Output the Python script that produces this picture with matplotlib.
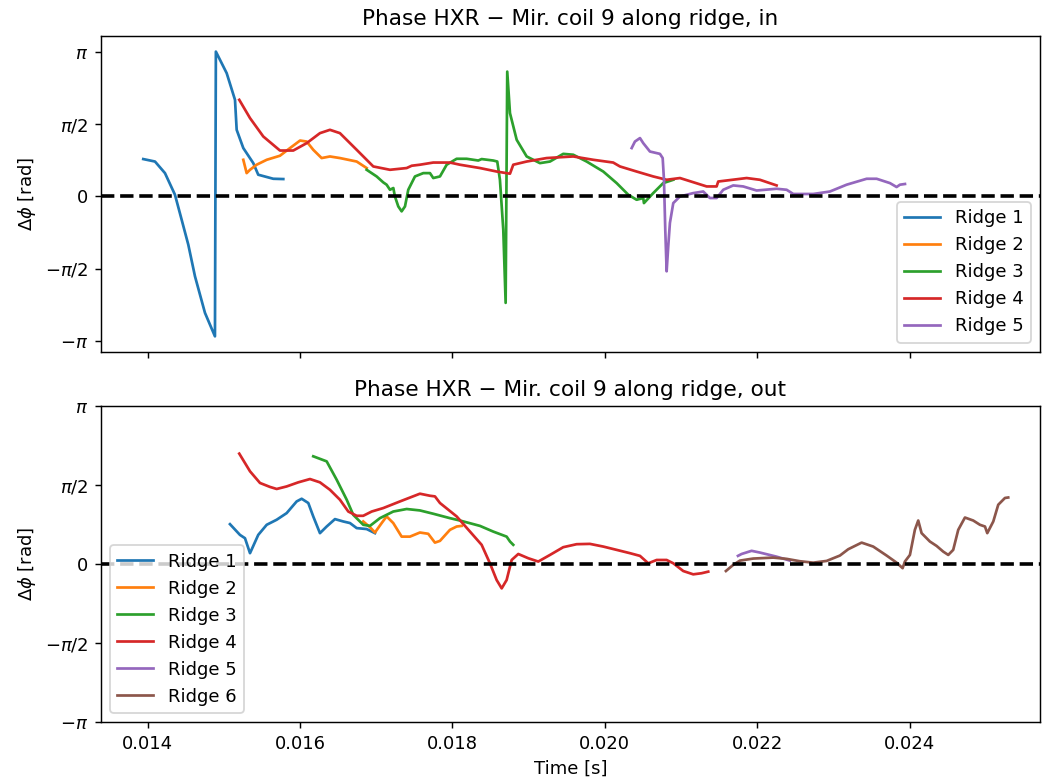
import numpy as np
import matplotlib
matplotlib.use("Agg")
import matplotlib.pyplot as plt

# phase values are stored in units of pi, time in seconds

# ---- top panel: "in" ----
in_t1 = [0.013942, 0.014096, 0.014227, 0.014358, 0.014446, 0.014533, 0.014621, 0.014752,
         0.014883, 0.014895, 0.015037, 0.015146, 0.015168, 0.015255, 0.015386, 0.015451,
         0.015648, 0.015780]
in_p1 = [0.258, 0.241, 0.161, 0.012, -0.161, -0.333, -0.552, -0.804,
         -0.966, 1.0, 0.851, 0.667, 0.46, 0.334, 0.230, 0.150,
         0.122, 0.120]

in_t2 = [0.015255, 0.015299, 0.015343, 0.015430, 0.015562, 0.015736, 0.015868, 0.016,
         0.016087, 0.016173, 0.016283, 0.016392, 0.016523, 0.016743, 0.016874]
in_p2 = [0.253, 0.161, 0.184, 0.219, 0.253, 0.281, 0.334, 0.386,
         0.379, 0.322, 0.265, 0.276, 0.265, 0.241, 0.196]

in_t3 = [0.016874, 0.017005, 0.017092, 0.017136, 0.017180, 0.017224, 0.017245, 0.017289,
         0.017333, 0.017377, 0.017420, 0.017508, 0.017617, 0.017705, 0.017748, 0.017836,
         0.017924, 0.018055, 0.018186, 0.018339, 0.018383, 0.018535, 0.018588, 0.018623,
         0.018667, 0.018698, 0.018719, 0.018755, 0.018843, 0.018974, 0.019148, 0.019280,
         0.019454, 0.019585, 0.019761, 0.019979, 0.020155, 0.020307, 0.020417, 0.020504,
         0.020513, 0.020635, 0.020766, 0.020898]
in_p3 = [0.184, 0.138, 0.097, 0.081, 0.046, 0.058, 0.0, -0.069,
         -0.103, -0.069, 0.046, 0.138, 0.161, 0.161, 0.127, 0.138,
         0.219, 0.260, 0.260, 0.248, 0.258, 0.248, 0.241, 0.115,
         -0.230, -0.735, 0.862, 0.575, 0.391, 0.276, 0.230, 0.241,
         0.294, 0.288, 0.241, 0.172, 0.092, 0.012, -0.023, -0.011,
         -0.046, 0.023, 0.092, 0.115]

in_t4 = [0.015202, 0.015343, 0.015517, 0.015736, 0.015911, 0.016087, 0.016261, 0.016392,
         0.016523, 0.016743, 0.016961, 0.017180, 0.017399, 0.017465, 0.017573, 0.017748,
         0.017967, 0.018098, 0.018361, 0.018580, 0.018755, 0.018798, 0.018974, 0.019236,
         0.019585, 0.019848, 0.020110, 0.020198, 0.020417, 0.020635, 0.020811, 0.020986,
         0.021336, 0.021467, 0.021488, 0.021861, 0.022035, 0.022254]
in_p4 = [0.667, 0.541, 0.414, 0.317, 0.317, 0.368, 0.437, 0.460,
         0.437, 0.322, 0.207, 0.184, 0.196, 0.212, 0.219, 0.234,
         0.234, 0.219, 0.196, 0.172, 0.157, 0.219, 0.241, 0.265,
         0.276, 0.253, 0.234, 0.207, 0.172, 0.138, 0.115, 0.127,
         0.069, 0.069, 0.103, 0.127, 0.115, 0.076]

in_t5 = [0.020352, 0.020395, 0.020461, 0.020504, 0.020592, 0.020723, 0.020759, 0.020776,
         0.020793, 0.020811, 0.020832, 0.020854, 0.020898, 0.020986, 0.021160, 0.021291,
         0.021379, 0.021467, 0.021554, 0.021685, 0.021816, 0.021992, 0.022254, 0.022386,
         0.022473, 0.022735, 0.022954, 0.023173, 0.023436, 0.023567, 0.023742, 0.023829,
         0.023873, 0.023939]
in_p5 = [0.334, 0.379, 0.403, 0.368, 0.310, 0.294, 0.265, 0.115,
         -0.230, -0.517, -0.345, -0.183, -0.046, 0.0, 0.023, 0.034,
         -0.011, -0.011, 0.046, 0.076, 0.069, 0.041, 0.053, 0.046,
         0.017, 0.017, 0.034, 0.081, 0.122, 0.122, 0.092, 0.065,
         0.081, 0.086]

# ---- bottom panel: "out" ----
out_t1 = [0.015080, 0.015211, 0.015277, 0.015343, 0.015451, 0.015562, 0.015693, 0.015824,
          0.015955, 0.016021, 0.016108, 0.016173, 0.016261, 0.016349, 0.016458, 0.016567,
          0.016655, 0.016743, 0.016874, 0.016983]
out_p1 = [0.254, 0.186, 0.165, 0.070, 0.186, 0.250, 0.282, 0.324,
          0.398, 0.415, 0.388, 0.303, 0.197, 0.239, 0.286, 0.271,
          0.261, 0.229, 0.223, 0.197]

out_t2 = [0.016829, 0.016917, 0.016983, 0.017071, 0.017136, 0.017223, 0.017333, 0.017442,
          0.017573, 0.017682, 0.017770, 0.017836, 0.017967, 0.018055, 0.018121]
out_p2 = [0.271, 0.235, 0.201, 0.261, 0.303, 0.261, 0.175, 0.175,
          0.201, 0.193, 0.137, 0.148, 0.218, 0.239, 0.243]

out_t3 = [0.016173, 0.016349, 0.016480, 0.016612, 0.016698, 0.016829, 0.016917, 0.017048,
          0.017223, 0.017399, 0.017573, 0.017748, 0.017967, 0.018098, 0.018361, 0.018535,
          0.018711, 0.018755, 0.018798]
out_p3 = [0.684, 0.652, 0.536, 0.409, 0.313, 0.250, 0.243, 0.292,
          0.334, 0.350, 0.341, 0.320, 0.292, 0.277, 0.243, 0.207,
          0.175, 0.144, 0.123]

out_t4 = [0.015202, 0.015343, 0.015474, 0.015605, 0.015693, 0.015824, 0.015976, 0.016130,
          0.016261, 0.016392, 0.016523, 0.016633, 0.016743, 0.016829, 0.016940, 0.017092,
          0.017311, 0.017573, 0.017705, 0.017770, 0.017836, 0.018055, 0.018230, 0.018383,
          0.018492, 0.018580, 0.018646, 0.018711, 0.018777, 0.018864, 0.018995, 0.019126,
          0.019280, 0.019454, 0.019630, 0.019804, 0.019979, 0.020155, 0.020330, 0.020461,
          0.020570, 0.020680, 0.020811, 0.020898, 0.021029, 0.021160, 0.021270, 0.021357]
out_p4 = [0.701, 0.589, 0.515, 0.490, 0.477, 0.493, 0.519, 0.540,
          0.519, 0.472, 0.409, 0.334, 0.307, 0.307, 0.334, 0.356,
          0.398, 0.447, 0.434, 0.430, 0.388, 0.303, 0.207, 0.123,
          0.006, -0.100, -0.153, -0.100, 0.027, 0.065, 0.038, 0.017,
          0.059, 0.108, 0.127, 0.129, 0.112, 0.091, 0.070, 0.053,
          0.006, 0.027, 0.027, 0.006, -0.043, -0.064, -0.057, -0.047]

out_t5 = [0.021747, 0.021795, 0.021926, 0.022035, 0.022254, 0.022429]
out_p5 = [0.053, 0.065, 0.085, 0.074, 0.048, 0.023]

out_t6 = [0.021589, 0.021685, 0.021773, 0.021947, 0.022210, 0.022386, 0.022560, 0.022735,
          0.022911, 0.023085, 0.023194, 0.023370, 0.023522, 0.023698, 0.023829, 0.023908,
          0.023938, 0.024004, 0.024069, 0.024113, 0.024157, 0.024266, 0.024354, 0.024441,
          0.024507, 0.024572, 0.024638, 0.024726, 0.024835, 0.024923, 0.024989, 0.025019,
          0.025098, 0.025163, 0.025251, 0.025294]
out_p6 = [-0.043, -0.004, 0.023, 0.036, 0.042, 0.034, 0.019, 0.010,
          0.021, 0.055, 0.095, 0.137, 0.112, 0.055, 0.010, -0.025,
          0.017, 0.059, 0.218, 0.277, 0.197, 0.144, 0.116, 0.080,
          0.059, 0.091, 0.218, 0.296, 0.277, 0.250, 0.239, 0.197,
          0.271, 0.377, 0.420, 0.423]

in_ridges = [(in_t1, in_p1), (in_t2, in_p2), (in_t3, in_p3), (in_t4, in_p4), (in_t5, in_p5)]
out_ridges = [(out_t1, out_p1), (out_t2, out_p2), (out_t3, out_p3), (out_t4, out_p4),
              (out_t5, out_p5), (out_t6, out_p6)]

tick_vals = [-np.pi, -np.pi / 2, 0, np.pi / 2, np.pi]
tick_labels = [r"$-\pi$", r"$-\pi/2$", "0", r"$\pi/2$", r"$\pi$"]

fig, (ax1, ax2) = plt.subplots(2, 1, sharex=True, figsize=(1042 / 130, 782 / 130), dpi=130)
fig.subplots_adjust(left=0.0969, right=0.998, top=0.954, bottom=0.0767, hspace=0.174)

for i, (t, p) in enumerate(in_ridges):
    ax1.plot(t, np.array(p) * np.pi, label="Ridge %d" % (i + 1))
ax1.axhline(0, color="k", linestyle="--", linewidth=2)
ax1.set_title("Phase HXR \u2212 Mir. coil 9 along ridge, in")
ax1.set_ylabel(r"$\Delta\phi$ [rad]")
ax1.set_yticks(tick_vals)
ax1.set_yticklabels(tick_labels)
ax1.set_ylim(-1.071 * np.pi, 1.108 * np.pi)
ax1.legend(loc="lower right")

for i, (t, p) in enumerate(out_ridges):
    ax2.plot(t, np.array(p) * np.pi, label="Ridge %d" % (i + 1))
ax2.axhline(0, color="k", linestyle="--", linewidth=2)
ax2.set_title("Phase HXR \u2212 Mir. coil 9 along ridge, out")
ax2.set_ylabel(r"$\Delta\phi$ [rad]")
ax2.set_xlabel("Time [s]")
ax2.set_yticks(tick_vals)
ax2.set_yticklabels(tick_labels)
ax2.set_ylim(-np.pi, np.pi)
ax2.legend(loc="lower left")

ax2.set_xlim(0.013387, 0.02571)

plt.savefig("out.png", dpi=130)
